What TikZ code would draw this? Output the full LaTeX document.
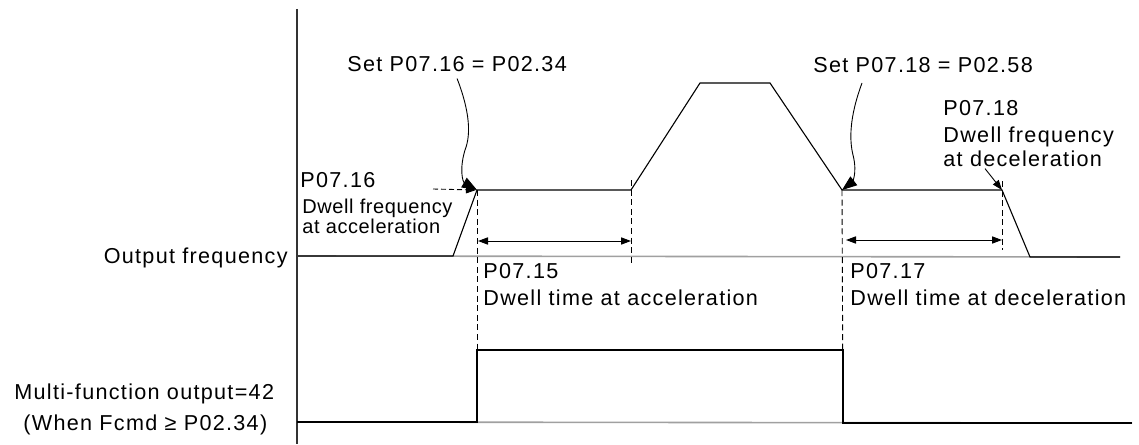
\documentclass[tikz,border=0pt]{standalone}
\usepackage{fontspec}
\setmainfont{Liberation Sans}[LetterSpace=6]
\newfontfamily\tightfont{Liberation Sans}[LetterSpace=3]
\usetikzlibrary{arrows.meta}
\definecolor{AxisGray}{HTML}{A0A0A0}
\tikzset{
  lbl/.style={inner sep=0pt,font=\fontsize{10.8}{13}\selectfont},
  tightlbl/.style={inner sep=0pt,font=\tightfont\fontsize{10}{12}\selectfont},
  wave/.style={line width=0.55pt},
  baseline gray/.style={AxisGray,line width=0.8pt},
  guide/.style={dash pattern=on 3pt off 1.8pt,line width=0.45pt},
  tip/.style={-{Triangle[length=5pt,width=3.6pt]}},
  bigtip/.style={-{Triangle[length=7.5pt,width=5.5pt]}},
  span/.style={{Triangle[length=5pt,width=3.6pt]}-{Triangle[length=5pt,width=3.6pt]},line width=0.5pt}
}
\begin{document}
\begin{tikzpicture}[x=0.5pt,y=-0.5pt,line join=miter]
  \useasboundingbox (0,0) rectangle (1139,444);
  % points of the two traces
  \coordinate (f0) at (297,256);\coordinate (f1) at (453,256);\coordinate (f2) at (477,190);
  \coordinate (f3) at (631,190);\coordinate (f4) at (700,83);\coordinate (f5) at (770,83);
  \coordinate (f6) at (842,190);\coordinate (f7) at (1002,190);\coordinate (f8) at (1030,257);
  \coordinate (f9) at (1120,257);
  \coordinate (m0) at (297,422);\coordinate (m1) at (477,422);\coordinate (m2) at (477,350);
  \coordinate (m3) at (843,350);\coordinate (m4) at (843,423);\coordinate (m5) at (1132,423);
  % axes
  \draw[line width=0.7pt,black!80] (297,9) -- (297,444);
  \draw[baseline gray] (f0) -- (f9);
  \draw[baseline gray] (m0) -- (m5);
  % traces
  \draw[wave] (f0) -- (f1) -- (f2) -- (f3) -- (f4) -- (f5) -- (f6) -- (f7) -- (f8) -- (f9);
  \draw[wave] (m0) -- (m1) -- (m2) -- (m3) -- (m4) -- (m5);
  % guide lines
  \draw[guide] (f2) -- (m1);
  \draw[guide] (f6) -- (m4);
  \draw[guide] (631,180) -- (631,266);
  \draw[guide] (1002,181) -- (1002,250);
  \draw[span] (478,241) -- (631,241);
  \draw[span] (846,240) -- (1002,240);
  % labels
  \node[lbl,anchor=base east] (outf) at (288,263) {Output frequency};
  \node[lbl,anchor=base west] (mfo) at (14,399) {Multi-function output=42};
  \node[lbl,anchor=base west] (mfc) at (23,430) {(When Fcmd ≥ P02.34)};
  \node[lbl,anchor=base west] (setacc) at (347,72) {Set P07.16 = P02.34};
  \node[lbl,anchor=base west] (setdec) at (813,73) {Set P07.18 = P02.58};
  \node[lbl,anchor=base west] (p716) at (300,187) {P07.16};
  \node[tightlbl,anchor=base west] (dfa) at (302,213) {Dwell frequency};
  \node[tightlbl,anchor=base west] (dfa2) at (302,233) {at acceleration};
  \node[lbl,anchor=base west] (p718) at (943,116) {P07.18};
  \node[lbl,anchor=base west] (dfd) at (943,142) {Dwell frequency};
  \node[lbl,anchor=base west] (dfd2) at (943,166) {at deceleration};
  \node[lbl,anchor=base west] (p715) at (483,278) {P07.15};
  \node[lbl,anchor=base west] (dta) at (483,305) {Dwell time at acceleration};
  \node[lbl,anchor=base west] (p717) at (850,278) {P07.17};
  \node[lbl,anchor=base west] (dtd) at (850,305) {Dwell time at deceleration};
  % pointers
  \draw[bigtip,line width=0.45pt] ([yshift=-3pt]setacc.south) .. controls (470,112) and (471,135) .. (465,150)
    .. controls (459,170) and (463,182) .. (f2);
  \draw[bigtip,line width=0.45pt] (862,83) .. controls (852,110) and (848,135) .. (853,155)
    .. controls (858,175) and (851,183) .. (f6);
  \draw[tip,dash pattern=on 2.5pt off 1.5pt,line width=0.45pt] (433,189) -- ([xshift=-0.5pt]f2);
  \draw[tip,line width=0.45pt] (dfd2.south west) ++(42,2) -- (f7);
\end{tikzpicture}
\end{document}
